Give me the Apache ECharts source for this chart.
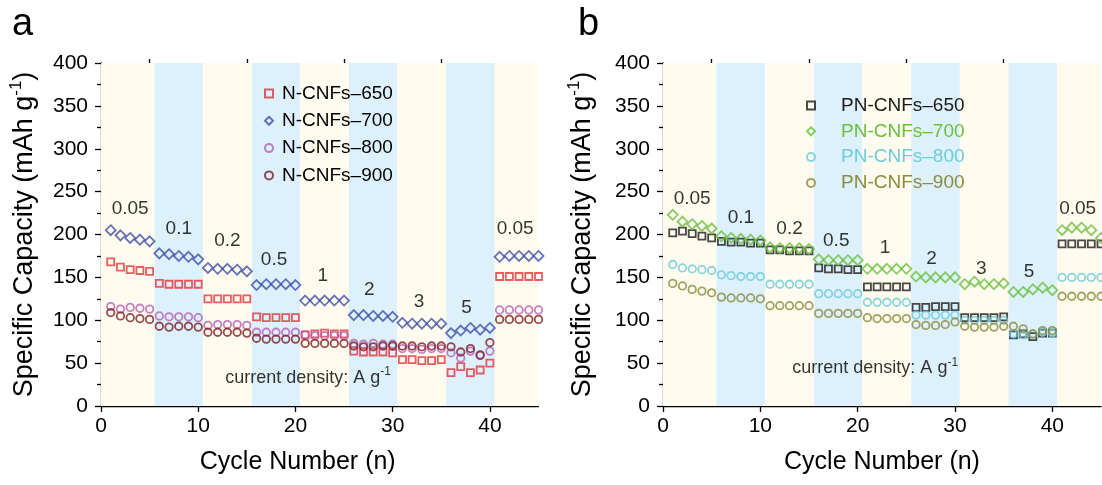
<!DOCTYPE html>
<html>
<head>
<meta charset="utf-8">
<script src="https://cdn.jsdelivr.net/npm/echarts@6/dist/echarts.min.js"></script>
<style>
  html, body { margin: 0; background: #fff; }
  #chart { width: 1102px; height: 485px; }
</style>
</head>
<body>
<div id="chart"></div>
<script>
// capacity per cycle (cycles 1..45)
const n650 = [168, 162, 159, 158, 157, 143, 142, 142, 142, 142, 125, 125, 125, 125, 125, 104, 103, 103, 103, 103, 83, 84, 85, 84, 84, 64, 63, 63, 63, 62, 54, 54, 53, 53, 54, 39, 46, 39, 42, 50, 151, 151, 151, 151, 151]
const n700 = [205, 199, 196, 194, 192, 178, 177, 175, 174, 171, 161, 160, 160, 159, 157, 141, 142, 142, 142, 141, 123, 123, 123, 123, 123, 106, 106, 105, 105, 104, 97, 96, 96, 96, 96, 85, 88, 91, 89, 91, 174, 175, 175, 175, 175]
const n800 = [116, 113, 115, 114, 113, 105, 104, 104, 104, 103, 94, 95, 95, 95, 94, 86, 86, 86, 86, 86, 83, 82, 82, 82, 82, 73, 72, 73, 72, 72, 67, 67, 66, 67, 67, 62, 56, 64, 60, 64, 112, 112, 112, 112, 112]
const n900 = [109, 105, 103, 102, 101, 93, 92, 93, 93, 92, 86, 86, 86, 86, 85, 79, 78, 78, 78, 78, 73, 73, 73, 73, 73, 70, 69, 69, 70, 70, 70, 70, 69, 70, 70, 69, 63, 67, 59, 74, 101, 101, 101, 101, 101]

const p650 = [202, 204, 201, 198, 196, 192, 191, 191, 190, 190, 182, 182, 181, 181, 181, 161, 160, 160, 159, 159, 139, 139, 139, 139, 139, 115, 115, 116, 116, 116, 103, 103, 103, 103, 104, 83, 84, 81, 85, 85, 189, 189, 189, 189, 189]
const p700 = [223, 215, 212, 210, 207, 198, 196, 195, 194, 193, 185, 184, 184, 184, 183, 171, 170, 170, 170, 170, 160, 160, 160, 160, 160, 151, 150, 150, 150, 150, 142, 145, 142, 142, 143, 133, 133, 136, 138, 135, 205, 208, 208, 205, 196]
const p800 = [165, 161, 160, 159, 158, 153, 152, 151, 151, 151, 142, 142, 142, 142, 142, 131, 131, 131, 131, 131, 121, 121, 121, 121, 121, 106, 106, 106, 106, 106, 100, 100, 100, 100, 100, 84, 83, 84, 86, 85, 150, 150, 150, 150, 150]
const p900 = [143, 140, 136, 134, 132, 127, 126, 126, 126, 125, 117, 117, 117, 117, 117, 108, 108, 108, 108, 108, 103, 102, 102, 102, 102, 95, 94, 94, 95, 98, 93, 92, 92, 92, 93, 93, 90, 84, 88, 88, 128, 128, 128, 128, 128]

// current density steps (A g-1) and where their labels sit
const rates = ['0.05', '0.1', '0.2', '0.5', '1', '2', '3', '5', '0.05']
const rateX = [3, 8, 13, 17.8, 22.8, 27.6, 32.7, 37.6, 42.6]
const rateYA = [230, 207, 193, 170, 152, 135, 121, 114, 207]
const rateYB = [242, 219, 207, 193, 184, 172, 160, 156, 230]

// shaded bands behind each rate step
const bandEdges = [0, 5.5, 10.5, 15.5, 20.5, 25.5, 30.5, 35.5, 40.5, 45]
const xMajor = [0, 10, 20, 30, 40]
const xMinor = [5, 15, 25, 35]

const FONT = 'Liberation Sans, Arial, sans-serif'
const INK = '#000'
const bandColors = ['#fffcef', '#ddf1fc']

const pointsOf = values => values.map((v, i) => [i + 1, v])

function bandSeries(xi, yi) {
  const data = []
  for (let i = 0; i < bandEdges.length - 1; i++) {
    data.push([{ xAxis: bandEdges[i], itemStyle: { color: bandColors[i % 2] } }, { xAxis: bandEdges[i + 1] }])
  }
  return {
    type: 'line', xAxisIndex: xi, yAxisIndex: yi, data: [], z: 1, silent: true,
    markArea: { silent: true, data }
  }
}

function markerSeries(name, values, symbol, size, color, xi, yi) {
  return {
    name, type: 'scatter', xAxisIndex: xi, yAxisIndex: yi, z: 3,
    symbol, symbolSize: size,
    itemStyle: { color: 'rgba(0,0,0,0)', borderColor: color, borderWidth: 1.8 },
    data: pointsOf(values)
  }
}

function textSeries(xi, yi, ys) {
  const data = rates.map((r, i) => ({ name: r, value: [rateX[i], ys[i]] }))
  return {
    type: 'scatter', xAxisIndex: xi, yAxisIndex: yi, z: 4, silent: true, symbolSize: 0,
    label: { show: true, position: 'inside', formatter: '{b}', fontSize: 19, color: INK, fontFamily: FONT },
    data
  }
}

function noteSeries(xi, yi, x, y) {
  return {
    type: 'scatter', xAxisIndex: xi, yAxisIndex: yi, z: 4, silent: true, symbolSize: 0,
    label: {
      show: true, position: 'inside',
      formatter: '{t|current density: A g}{s|-1}',
      rich: {
        t: { fontSize: 18, color: INK, fontFamily: FONT, lineHeight: 24 },
        s: { fontSize: 12, color: INK, fontFamily: FONT, lineHeight: 12, verticalAlign: 'top' }
      }
    },
    data: [[x, y]]
  }
}

function xAxisMajor(gi, pad) {
  return {
    type: 'value', gridIndex: gi, min: 0, max: 45,
    name: 'Cycle Number (n)', nameLocation: 'middle', nameGap: 44,
    nameTextStyle: { fontSize: 25, color: INK, fontFamily: FONT, padding: pad },
    axisLine: { onZero: false, lineStyle: { color: INK, width: 1.3 } },
    axisTick: { customValues: xMajor, length: 6, lineStyle: { color: INK, width: 1.3 } },
    axisLabel: { customValues: xMajor, fontSize: 21, color: INK, fontFamily: FONT, margin: 10 },
    splitLine: { show: false }
  }
}

function xAxisMinor(gi) {
  return {
    type: 'value', gridIndex: gi, min: 0, max: 45,
    axisLine: { show: false, onZero: false },
    axisTick: { customValues: xMinor, length: 4, lineStyle: { color: INK, width: 1.3 } },
    axisLabel: { show: false },
    splitLine: { show: false }
  }
}

function yAxisOf(gi, gap) {
  return {
    type: 'value', gridIndex: gi, min: 0, max: 400, interval: 50,
    name: '{t|Specific Capacity (mAh g}{s|-1}{t|)}', nameLocation: 'middle', nameGap: gap,
    nameTextStyle: {
      rich: {
        t: { fontSize: 27, color: INK, fontFamily: FONT, lineHeight: 34 },
        s: { fontSize: 17, color: INK, fontFamily: FONT, lineHeight: 17, verticalAlign: 'top' }
      }
    },
    axisLine: { show: true, lineStyle: { color: INK, width: 1.3 } },
    axisTick: { length: 6, lineStyle: { color: INK, width: 1.3 } },
    minorTick: { show: true, splitNumber: 2, length: 4, lineStyle: { color: INK, width: 1.3 } },
    axisLabel: { fontSize: 21, color: INK, fontFamily: FONT, margin: 13 },
    splitLine: { show: false }
  }
}

const seriesA = [
  ['N-CNFs\u2013650', n650, 'rect', 7, '#e2343b'],
  ['N-CNFs\u2013700', n700, 'diamond', 10, '#4150a6'],
  ['N-CNFs\u2013800', n800, 'circle', 7.5, '#b35fb8'],
  ['N-CNFs\u2013900', n900, 'circle', 7.5, '#7d1e24']
]
const seriesB = [
  ['PN-CNFs\u2013650', p650, 'rect', 7, '#1a1a1a'],
  ['PN-CNFs\u2013700', p700, 'diamond', 10, '#6abf3f'],
  ['PN-CNFs\u2013800', p800, 'circle', 7.5, '#6dcbdb'],
  ['PN-CNFs\u2013900', p900, 'circle', 7.5, '#8b8b3c']
]

const chart = echarts.init(document.getElementById('chart'))

const option = {
  animation: false,
  textStyle: { fontFamily: FONT },
  grid: [
    { left: 101, top: 63, width: 437.5, height: 343 },
    { left: 663, top: 63, width: 438, height: 343 }
  ],
  xAxis: [xAxisMajor(0, [0, 44, 0, 0]), xAxisMinor(0), xAxisMajor(1, [0, 0, 0, 0]), xAxisMinor(1)],
  yAxis: [yAxisOf(0, 59), yAxisOf(1, 63)],
  legend: [
    {
      orient: 'vertical', left: 259, top: 79, itemWidth: 8, itemHeight: 8, itemGap: 8.3,
      textStyle: { fontSize: 19, color: INK, fontFamily: FONT, lineHeight: 19, padding: [0, 0, 0, 4] },
      data: seriesA.map(s => s[0])
    },
    {
      orient: 'vertical', left: 801, top: 91, itemWidth: 8, itemHeight: 8, itemGap: 6.8,
      textStyle: { fontSize: 19, fontFamily: FONT, lineHeight: 19, padding: [0, 0, 0, 21] },
      data: seriesB.map(s => ({ name: s[0], textStyle: { color: s[4] } }))
    }
  ],
  graphic: [
    { type: 'text', left: 12, top: 6, style: { text: 'a', fontSize: 38, fill: INK, fontFamily: FONT } },
    { type: 'text', left: 578, top: 6, style: { text: 'b', fontSize: 38, fill: INK, fontFamily: FONT } }
  ],
  series: [
    bandSeries(0, 0),
    bandSeries(2, 1),
    ...seriesA.map(s => markerSeries(s[0], s[1], s[2], s[3], s[4], 0, 0)),
    ...seriesB.map(s => markerSeries(s[0], s[1], s[2], s[3], s[4], 2, 1)),
    textSeries(0, 0, rateYA),
    textSeries(2, 1, rateYB),
    noteSeries(0, 0, 21.3, 32.7),
    noteSeries(2, 1, 21.8, 44)
  ]
}

chart.setOption(option)
window.addEventListener('resize', () => chart.resize())
</script>
</body>
</html>
